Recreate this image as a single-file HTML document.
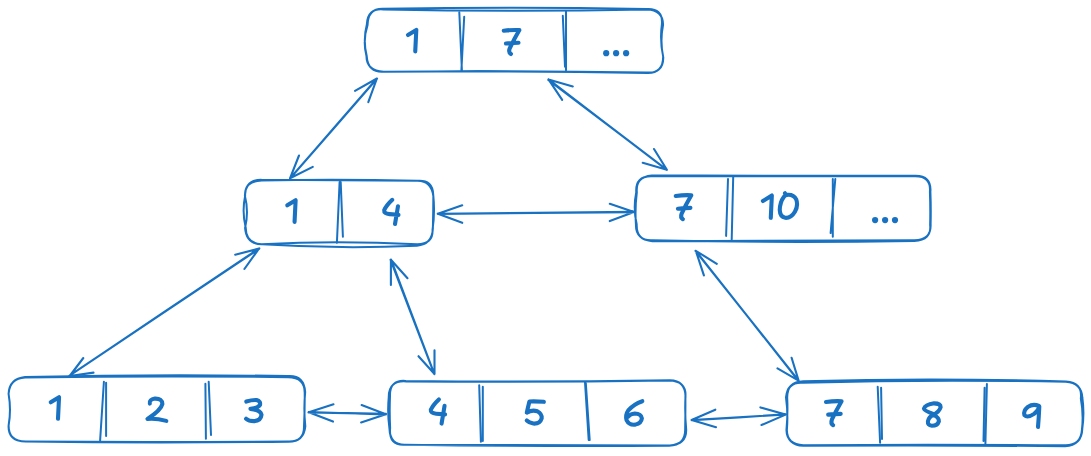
<!DOCTYPE html>
<html><head><meta charset="utf-8"><style>
html,body{margin:0;padding:0;background:#fff;width:1091px;height:456px;overflow:hidden}
svg{display:block}
</style></head><body>
<svg width="1091" height="456" viewBox="0 0 1091 456">
<g fill="none" stroke="#1971c2" stroke-linecap="round" stroke-linejoin="round">
<path d="M382.58,8.87 Q514.49,6.62 646.39,8.97 Q663.01,7.75 661.9,24.02 Q659.66,40.32 663.14,56.61 Q663.22,73.22 647.39,72.89 Q515.47,70.51 383.54,71.83 Q366.52,70.67 366.44,56.02 Q362.45,40.43 367.59,24.84 Q367.88,8.73 382.58,8.87 M383.35,9.41 Q515.15,12.26 646.94,9.47 Q662.8,9.77 663.08,24.71 Q659.78,41.16 663.3,57.61 Q663.04,74.03 646.02,72.48 Q514.88,70.23 383.74,71.76 Q367.86,72.98 366.68,55.81 Q362.81,40.19 366.82,24.56 Q367.41,7.99 383.35,9.41 " stroke-width="2.0"/>
<path d="M459.3,12.3 L461.9,70.2 M464.2,16.7 L461.4,70.2" stroke-width="2.0"/>
<path d="M566,11.4 L566,70.2 M562.8,15.8 L565,66.7" stroke-width="2.0"/>
<path d="M261.8,180.49 Q339.43,179.09 417.07,180.81 Q433.24,179.28 433.28,195.35 Q435.11,212.53 432.54,229.71 Q433.31,244.13 417.24,244.34 Q339.4,240.41 261.55,244.14 Q245.88,243.6 245.72,227.72 Q241.77,211.73 245.15,195.75 Q244.4,180.99 261.8,180.49 M261.14,179.64 Q339.25,180.41 417.37,180.7 Q431.41,180.53 433.34,196.16 Q433.28,212.35 432.88,228.53 Q432.21,244.54 416.91,245.7 Q339.57,249.21 262.23,244.22 Q246.36,244.45 245.07,227.93 Q248.97,211.86 244.9,195.78 Q245.16,180.05 261.14,179.64 " stroke-width="2.0"/>
<path d="M339.6,182.1 L336.9,242.8 M340.7,182.1 L342.9,236.8" stroke-width="2.0"/>
<path d="M651.72,175.56 Q783.28,175.54 914.84,175.79 Q931.74,175.41 930.39,191.79 Q931.03,207.93 930.61,224.06 Q931.46,240.3 913.91,240.13 Q783.15,240.53 652.38,241.13 Q635.65,239.68 635.93,224.8 Q634.8,208.51 636.84,192.22 Q635.54,176.86 651.72,175.56 M651.49,176.25 Q783.16,176.07 914.82,176.27 Q931.15,175.99 929.9,191.8 Q930.53,208.44 930.13,225.09 Q931.75,239.88 914.3,240.93 Q783.36,243.19 652.43,240.29 Q636.3,241.22 636.69,224.19 Q632.97,208.17 636.24,192.14 Q635.16,176.07 651.49,176.25 " stroke-width="2.0"/>
<path d="M728,179 L726.1,235.9 M733.2,177.1 L731.7,239.6" stroke-width="2.0"/>
<path d="M832.8,179 L832.8,236.8 M835.3,179 L830.6,233.1" stroke-width="2.0"/>
<path d="M25.14,377.53 Q156.63,375.72 288.12,377.16 Q304.92,377.16 304.7,393.14 Q304.83,409.46 304.03,425.79 Q304.42,442.29 287.97,441.51 Q156.75,442.47 25.53,441.62 Q8.24,441.2 8.65,425.28 Q11.32,409.55 8.58,393.81 Q9.62,378.34 25.14,377.53 M25.07,377.07 Q156.7,373.86 288.33,376.11 Q303.99,375.32 305.2,392.02 Q303.48,409.16 305.32,426.31 Q303.7,441.8 288.51,441.69 Q156.47,443.26 24.44,441.58 Q8.04,440.7 8.58,425.85 Q11.41,409.89 8.59,393.93 Q9.19,378.81 25.07,377.07 " stroke-width="2.0"/>
<path d="M103.9,381.8 L100.1,440.6 M106.1,382.7 L106.1,435.9" stroke-width="2.0"/>
<path d="M205.4,383.7 L205.9,438.7 M208.7,381.8 L211,435" stroke-width="2.0"/>
<path d="M405.46,380.95 Q537.71,382.5 669.97,380.13 Q685.31,380.47 685.5,396.34 Q684.65,412.97 686.2,429.6 Q686.52,444.14 669.79,445.53 Q537.36,444.78 404.93,444.73 Q388.45,445.8 390.15,428.09 Q389.33,412.06 390.01,396.02 Q389.52,379.72 405.46,380.95 M406.28,381.41 Q537.68,382.46 669.08,380.58 Q686.84,381.09 685.4,396.89 Q685.49,413.25 685.16,429.61 Q685.36,444.97 669.17,445.78 Q537.26,446.62 405.34,444.7 Q389.96,445.22 389.46,428.62 Q387.24,412.84 388.75,397.06 Q388.57,380.06 406.28,381.41 " stroke-width="2.0"/>
<path d="M479.2,385.3 L480.9,441.8 M482.8,386.8 L482.8,440.9" stroke-width="2.0"/>
<path d="M585,382.1 L588.7,440 M585.8,383 L589.7,440" stroke-width="2.0"/>
<path d="M803.24,381.22 Q934.61,377.79 1065.98,381.45 Q1082.62,382.03 1080.83,398.61 Q1083.76,414.34 1081.89,430.07 Q1080.96,445.39 1065.18,445.24 Q934.26,444.25 803.33,445.15 Q786.81,444.49 786.44,430.07 Q787.94,414.27 787.23,398.48 Q786.66,381.66 803.24,381.22 M802.61,382.69 Q934.22,379.21 1065.83,381.85 Q1081.52,382.82 1082.39,397.98 Q1084.51,413.36 1082.31,428.73 Q1081.73,445.26 1065.08,446.2 Q934.19,445.17 803.3,445.85 Q787,444.73 786.87,430.12 Q788.24,413.75 785.99,397.39 Q787.58,381.65 802.61,382.69 " stroke-width="2.0"/>
<path d="M877.7,386.8 L880.1,442.8 M881.1,387.7 L882,439" stroke-width="2.0"/>
<path d="M984.6,387.7 L983.5,440.9 M986.9,384 L985.4,443.7" stroke-width="2.0"/>
<path d="M377.09 78.64 C362.67 95.27 304.64 161.64 290.16 178.25 M376.49 78.89 C362.14 95.5 304.85 161.54 290.4 178.15 M355,90.8 L376.9,78.5 M368.3,102.2 L376.9,78.5 M299,155.5 L290,178.3 M312.8,166.9 L290,178.3" stroke-width="2.1"/>
<path d="M548.83 79.7 C568.55 94.82 647.23 154.93 666.88 169.91 M548.24 79.82 C567.94 94.82 646.8 154.49 666.51 169.52 M572.8,86.5 L548.5,79.4 M562.2,99.9 L548.5,79.4 M642.7,162.7 L666.9,169.8 M654,149 L666.9,169.8" stroke-width="2.1"/>
<path d="M437.67 213.85 C470.41 213.54 601.34 212.22 634.08 211.92 M438.01 213.72 C470.82 213.47 601.69 212.54 634.34 212.21 M462.2,205.3 L437.9,213.7 M462.2,222.8 L437.9,213.7 M609.8,203.8 L634,212 M609.8,221.1 L634,212" stroke-width="2.1"/>
<path d="M259.15 248.76 C227.51 269.95 101.06 354.54 69.5 375.7 M259.33 248.26 C227.74 269.39 100.88 354.53 69.32 375.75 M235.2,254.7 L259,248.6 M244.4,269 L259,248.6 M83.3,358 L69.7,376 M93.5,372.6 L69.7,376" stroke-width="2.1"/>
<path d="M391.06 259.51 C398.26 278.54 427.11 355.12 434.38 374.15 M390.56 259.84 C397.85 278.85 426.97 355.09 434.35 374.13 M390.9,284.9 L390.9,259.7 M407.5,278.2 L390.9,259.7 M434.5,350.3 L434.5,374 M418.5,356.2 L434.5,374" stroke-width="2.1"/>
<path d="M696 251.12 C713.07 272.8 781.39 359.25 798.47 380.79 M695.48 250.94 C712.62 272.49 781.29 358.71 798.47 380.3 M716.8,263.8 L695.8,250.8 M703.9,275.4 L695.8,250.8 M777.5,368.3 L798.6,380.6 M791.6,357.8 L798.6,380.6" stroke-width="2.1"/>
<path d="M308.46 412.51 C321.31 412.74 373.1 413.57 386.02 413.89 M308.68 412.16 C321.58 412.45 373.05 414.06 385.94 414.37 M333.5,404.3 L308.8,412.2 M333,421.6 L308.8,412.2 M361.6,405 L385.8,414.2 M361.1,422.4 L385.8,414.2" stroke-width="2.1"/>
<path d="M691.93 420.11 C707.62 419.18 770.02 415.33 785.59 414.47 M691.68 420.19 C707.37 419.29 770.34 415.38 785.97 414.4 M715.3,409.7 L691.6,420 M716,427.2 L691.6,420 M760.4,407.4 L785.6,414.6 M761.5,425 L785.6,414.6" stroke-width="2.1"/>
<path transform="translate(397,22) scale(0.087719)" d="M125,148 L220,90 L208,336" stroke-width="46.74"/>
<path transform="translate(495,22) scale(0.087719)" d="M100,100 Q190,88 278,92 Q215,200 168,300 Q150,345 182,365 M125,245 Q200,238 268,236" stroke-width="46.74"/>
<path transform="translate(276.32,192.37) scale(0.087719)" d="M125,148 L220,90 L208,336" stroke-width="46.74"/>
<path transform="translate(375,190) scale(0.087719)" d="M197,112 Q130,175 105,230 Q100,270 165,275 L268,283 M262,185 Q245,290 228,388" stroke-width="46.74"/>
<path transform="translate(666.93,187.19) scale(0.087719)" d="M100,100 Q190,88 278,92 Q215,200 168,300 Q150,345 182,365 M125,245 Q200,238 268,236" stroke-width="46.74"/>
<path transform="translate(755,188) scale(0.087719)" d="M90,148 L192,85 L180,340 M342,60 Q350,72 365,78 Q440,70 470,130 Q495,200 455,270 Q410,345 345,340 Q285,330 282,250 Q285,160 330,100 Q345,82 365,78" stroke-width="46.74"/>
<path transform="translate(39.75,389.32) scale(0.087719)" d="M125,148 L220,90 L208,336" stroke-width="46.74"/>
<path transform="translate(140,390) scale(0.087719)" d="M112,155 Q100,110 170,98 Q255,95 255,160 Q240,230 85,330 Q180,320 300,352" stroke-width="46.74"/>
<path transform="translate(238,390) scale(0.087719)" d="M95,132 Q160,112 212,115 Q262,128 250,172 Q222,210 142,215 Q255,228 268,282 Q262,350 182,355 Q122,355 92,328" stroke-width="46.74"/>
<path transform="translate(421.58,389.56) scale(0.087719)" d="M197,112 Q130,175 105,230 Q100,270 165,275 L268,283 M262,185 Q245,290 228,388" stroke-width="46.74"/>
<path transform="translate(518,392) scale(0.087719)" d="M295,112 Q210,105 130,108 Q115,170 100,235 Q160,200 220,220 Q275,250 270,300 Q250,365 175,360 Q125,350 100,325" stroke-width="46.74"/>
<path transform="translate(616,392) scale(0.087719)" d="M300,105 Q200,140 140,210 Q105,260 120,320 Q150,380 220,372 Q290,355 295,300 Q285,245 215,245 Q160,250 140,280" stroke-width="46.74"/>
<path transform="translate(817.19,393.14) scale(0.087719)" d="M100,100 Q190,88 278,92 Q215,200 168,300 Q150,345 182,365 M125,245 Q200,238 268,236" stroke-width="46.74"/>
<path transform="translate(913,395) scale(0.087719)" d="M230,215 Q130,180 125,155 Q140,110 240,95 Q315,95 315,140 Q300,190 235,225 Q300,260 295,300 Q280,350 215,350 Q165,345 170,300 Q180,250 235,225" stroke-width="46.74"/>
<path transform="translate(1013,395) scale(0.087719)" d="M295,125 Q230,95 170,135 Q115,180 130,230 Q165,265 240,215 Q290,180 300,130 Q295,250 285,365" stroke-width="46.74"/>
<circle cx="606.2" cy="53.2" r="3.1" fill="#1971c2" stroke="none"/>
<circle cx="616.1" cy="53.2" r="3.1" fill="#1971c2" stroke="none"/>
<circle cx="626.1" cy="53.2" r="3.1" fill="#1971c2" stroke="none"/>
<circle cx="875.1" cy="220.1" r="3.1" fill="#1971c2" stroke="none"/>
<circle cx="885.1" cy="220.1" r="3.1" fill="#1971c2" stroke="none"/>
<circle cx="895" cy="220.1" r="3.1" fill="#1971c2" stroke="none"/>
</g></svg>
</body></html>
